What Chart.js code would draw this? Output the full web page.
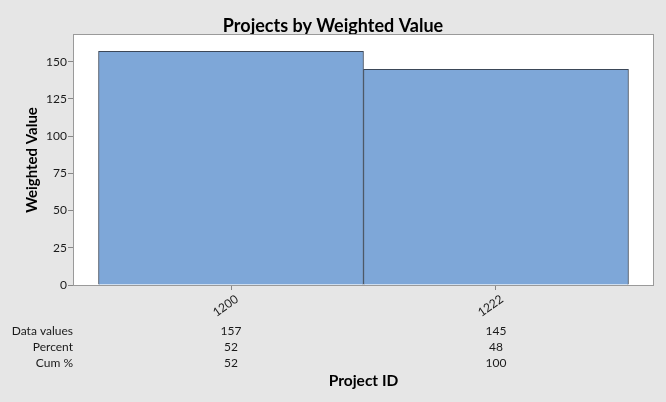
<!DOCTYPE html>
<html>
<head>
<meta charset="utf-8">
<script src="https://cdn.jsdelivr.net/npm/chart.js@4/dist/chart.umd.min.js"></script>
<style>
html,body{margin:0;padding:0;background:#e6e6e6;}
#wrap{width:666px;height:402px;}
</style>
</head>
<body>
<div id="wrap"><canvas id="c" width="666" height="402"></canvas></div>
<script>
const categories = ['1200', '1222'];
const dataValues = [157, 145];
const percentValues = [52, 48];
const cumPercent = [52, 100];
const yTicks = [0, 25, 50, 75, 100, 125, 150];
const tableRows = ['Data values', 'Percent', 'Cum %'];

const FONT = 'Lato, "Open Sans", sans-serif';

const framePlugin = {
  id: 'frame',
  beforeDraw(chart) {
    const {ctx, chartArea: a} = chart;
    ctx.save();
    ctx.fillStyle = '#e6e6e6';
    ctx.fillRect(0, 0, chart.width, chart.height);
    ctx.fillStyle = '#ffffff';
    ctx.fillRect(a.left, a.top, a.right - a.left, a.bottom - a.top);
    ctx.restore();
  },
  afterDraw(chart) {
    const {ctx, chartArea: a} = chart;
    ctx.save();
    ctx.strokeStyle = '#9a9a9a';
    ctx.lineWidth = 1;
    ctx.strokeRect(Math.round(a.left) - 0.5, Math.round(a.top) - 0.5, Math.round(a.right - a.left) + 1, Math.round(a.bottom - a.top) + 1);
    // table
    const xs = chart.scales.x;
    const rows = [dataValues, percentValues, cumPercent];
    const ys = [331, 347, 363];
    ctx.font = '12px ' + FONT;
    ctx.fillStyle = '#1a1a1a';
    ctx.textBaseline = 'middle';
    rows.forEach((row, r) => {
      ctx.textAlign = 'right';
      ctx.fillText(tableRows[r], 73, ys[r]);
      ctx.textAlign = 'center';
      row.forEach((v, i) => {
        ctx.fillText(String(v), xs.getPixelForValue(i), ys[r]);
      });
    });
    ctx.restore();
  }
};

new Chart(document.getElementById('c'), {
  type: 'bar',
  data: {
    datasets: [{
      data: dataValues.map((v, i) => ({x: i, y: v})),
      backgroundColor: '#7ea7d8',
      borderColor: '#3b4758',
      borderWidth: 1,
      barPercentage: 1,
      categoryPercentage: 1
    }]
  },
  options: {
    responsive: false,
    animation: false,
    devicePixelRatio: 1,
    layout: {padding: 0},
    plugins: {
      legend: {display: false},
      tooltip: {enabled: false},
      title: {
        display: true,
        text: 'Projects by Weighted Value',
        color: '#000',
        font: {family: FONT, size: 18, weight: 'bold', lineHeight: 1},
        padding: {top: 17, bottom: 0}
      }
    },
    scales: {
      x: {
        type: 'linear',
        offset: false,
        min: -0.5925,
        max: 1.5925,
        afterBuildTicks(s) { s.ticks = categories.map((c, i) => ({value: i})); },
        afterFit(s) { s.height = 117; },
        ticks: {
          callback: (v) => categories[v] ?? '',
          minRotation: 35,
          maxRotation: 35,
          labelOffset: 6,
          padding: 2,
          color: '#1a1a1a',
          font: {family: FONT, size: 12}
        },
        grid: {display: true, offset: false, drawOnChartArea: false, drawTicks: true, tickLength: 5, color: '#888'},
        border: {display: false},
        title: {
          display: true,
          text: 'Project ID',
          color: '#000',
          font: {family: FONT, size: 15.5, weight: 'bold', lineHeight: 1.2},
          padding: {top: 0, bottom: 12}
        }
      },
      y: {
        min: 0,
        max: 168,
        afterBuildTicks(s) { s.ticks = yTicks.map(v => ({value: v})); },
        afterFit(s) { s.width = 74; },
        ticks: {
          padding: 1,
          color: '#1a1a1a',
          font: {family: FONT, size: 12}
        },
        grid: {display: true, drawOnChartArea: false, drawTicks: true, tickLength: 6, color: '#888'},
        border: {display: false},
        title: {
          display: true,
          text: 'Weighted Value',
          color: '#000',
          font: {family: FONT, size: 15, weight: 'bold', lineHeight: 1.2},
          padding: {top: 23, bottom: 0}
        }
      },
      yRight: {
        position: 'right',
        display: true,
        min: 0,
        max: 168,
        afterFit(s) { s.width = 13; },
        ticks: {display: false},
        grid: {display: false},
        border: {display: false}
      }
    }
  },
  plugins: [framePlugin]
});
</script>
</body>
</html>
